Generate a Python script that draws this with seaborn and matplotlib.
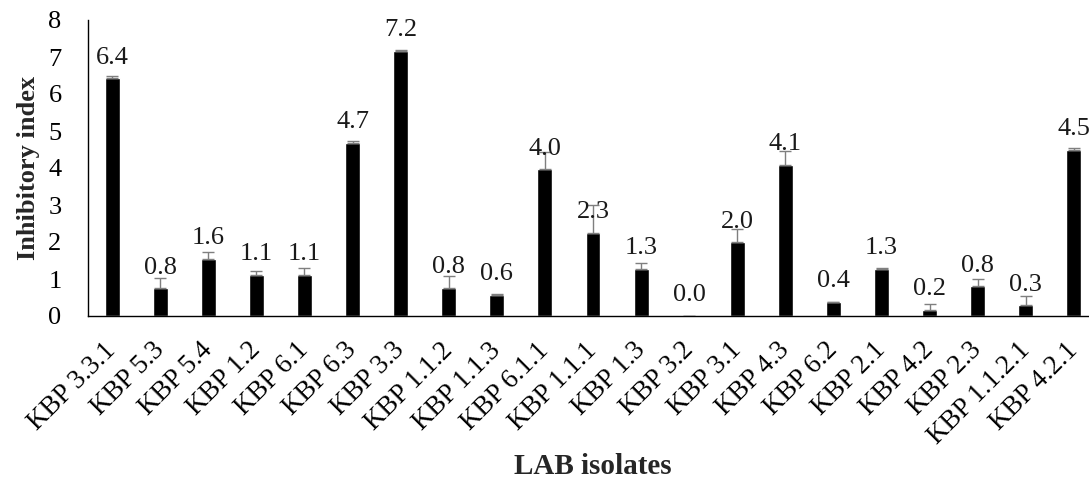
import matplotlib
matplotlib.use("Agg")
import matplotlib.pyplot as plt
import seaborn as sns
import numpy as np
import pandas as pd

isolates = ["KBP 3.3.1", "KBP 5.3", "KBP 5.4", "KBP 1.2", "KBP 6.1", "KBP 6.3",
            "KBP 3.3", "KBP 1.1.2", "KBP 1.1.3", "KBP 6.1.1", "KBP 1.1.1", "KBP 1.3",
            "KBP 3.2", "KBP 3.1", "KBP 4.3", "KBP 6.2", "KBP 2.1", "KBP 4.2",
            "KBP 2.3", "KBP 1.1.2.1", "KBP 4.2.1"]
index_mean = [6.42, 0.75, 1.55, 1.11, 1.11, 4.68, 7.16, 0.77, 0.58, 3.97, 2.25,
              1.28, 0.0, 1.99, 4.09, 0.38, 1.27, 0.17, 0.80, 0.29, 4.49]
index_err = [0.06, 0.29, 0.19, 0.11, 0.20, 0.04, 0.02, 0.30, 0.01, 0.45, 0.76,
             0.16, 0.0, 0.35, 0.38, 0.01, 0.04, 0.15, 0.19, 0.25, 0.05]
value_labels = ["6.4", "0.8", "1.6", "1.1", "1.1", "4.7", "7.2", "0.8", "0.6", "4.0",
                "2.3", "1.3", "0.0", "2.0", "4.1", "0.4", "1.3", "0.2", "0.8", "0.3", "4.5"]
y_ticks = [0, 1, 2, 3, 4, 5, 6, 7, 8]

sns.set_theme(style="white")
plt.rcParams["font.family"] = ["Liberation Serif", "DejaVu Serif"]

df = pd.DataFrame({"isolate": isolates, "mean": index_mean, "err": index_err})

fig = plt.figure(figsize=(10.89, 4.82), dpi=100)
ax = fig.add_axes([88 / 1089, (482 - 316) / 482, 1010 / 1089, 296 / 482])

sns.barplot(data=df, x="isolate", y="mean", color="black", width=0.31,
            saturation=1, ax=ax, errorbar=None)

pos = np.arange(len(isolates))
ax.errorbar(pos, df["mean"], yerr=[np.zeros(len(isolates)), df["err"]],
            fmt="none", ecolor="#7f7f7f", elinewidth=1.0, capsize=4.3, capthick=1.0,
            zorder=1)

for x, y, lab in zip(pos, index_mean, value_labels):
    ax.annotate(lab, (x, y), xytext=(0, 10.5), textcoords="offset points",
                ha="center", va="baseline", fontsize=19, color="#1a1a1a")

ax.set_ylim(0, 8)
ax.set_xlim(-0.5, len(isolates) - 0.5)
ax.set_yticks(y_ticks)
ax.set_yticklabels([str(t) for t in y_ticks], fontsize=19, color="black")
ax.tick_params(axis="y", length=0, pad=19)
ax.tick_params(axis="x", length=0, pad=22)
for lab in ax.get_xticklabels():
    lab.set_rotation(45)
    lab.set_ha("right")
    lab.set_va("center")
    lab.set_rotation_mode("anchor")
    lab.set_fontsize(19.5)
    lab.set_color("black")

ax.set_ylabel("Inhibitory index", fontsize=19, fontweight="bold", labelpad=6)
ax.set_xlabel("LAB isolates", fontsize=21, fontweight="bold")
ax.xaxis.set_label_coords(0.5, -151 / 296)
ax.xaxis.label.set_va("center")

for s in ["top", "right"]:
    ax.spines[s].set_visible(False)
for s in ["left", "bottom"]:
    ax.spines[s].set_color("black")
    ax.spines[s].set_linewidth(1.0)

fig.savefig("out.png", dpi=100)
